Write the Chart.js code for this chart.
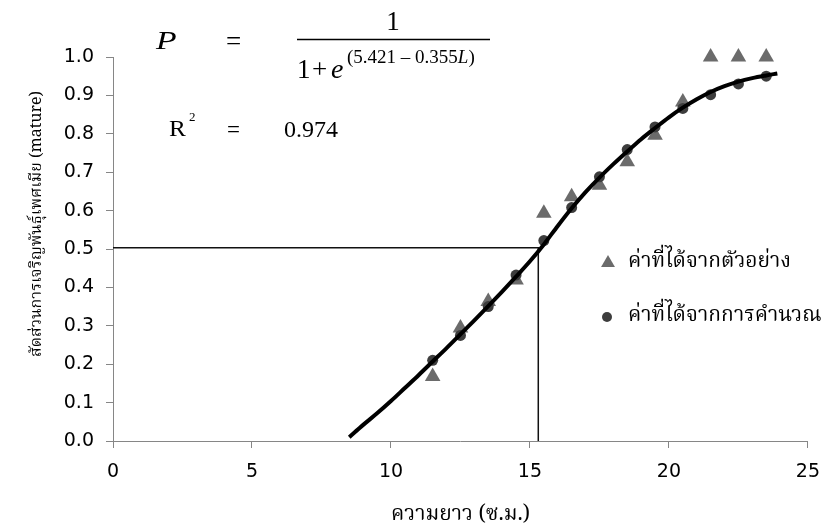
<!DOCTYPE html>
<html>
<head>
<meta charset="utf-8">
<script src="https://cdn.jsdelivr.net/npm/chart.js@4.4.1/dist/chart.umd.min.js"></script>
<style>
  html, body { margin: 0; padding: 0; background: #ffffff; }
  #wrap { width: 833px; height: 530px; }
</style>
</head>
<body>
<div id="wrap"><canvas id="chart" width="833" height="530"></canvas></div>
<script>
// Maturity ogive - observed vs calculated proportion by length
const lengthsCm = [11.5, 12.5, 13.5, 14.5, 15.5, 16.5, 17.5, 18.5, 19.5, 20.5, 21.5, 22.5, 23.5];
const observedP = [0.168, 0.294, 0.363, 0.419, 0.593, 0.636, 0.666, 0.727, 0.796, 0.883, 1.0, 1.0, 1.0];
const calculatedP = [0.21, 0.275, 0.35, 0.432, 0.522, 0.608, 0.688, 0.759, 0.818, 0.866, 0.902, 0.93, 0.95];

// fitted curve
const curveX = [8.5, 9.0, 9.5, 10.0, 10.5, 11.0, 11.5, 12.0, 12.5, 13.0, 13.5, 14.0, 14.5, 15.0, 15.5,
                16.0, 16.5, 17.0, 17.5, 18.0, 18.5, 19.0, 19.5, 20.0, 20.5, 21.0, 21.5, 22.0, 22.5, 23.0, 23.5, 23.9];
const curveY = [0.01, 0.042, 0.072, 0.104, 0.138, 0.172, 0.207, 0.242, 0.278, 0.314, 0.351, 0.389, 0.428, 0.468, 0.512,
                0.56, 0.606, 0.648, 0.686, 0.721, 0.754, 0.786, 0.815, 0.843, 0.868, 0.89, 0.909, 0.924, 0.936, 0.945, 0.952, 0.957];

// L50 guide lines
const l50X = [0, 15.3, 15.3];
const l50Y = [0.503, 0.503, 0];

const xTicks = [0, 5, 10, 15, 20, 25];
const yTicks = [0.0, 0.1, 0.2, 0.3, 0.4, 0.5, 0.6, 0.7, 0.8, 0.9, 1.0];

const seriesNames = ['ค่าที่ได้จากตัวอย่าง', 'ค่าที่ได้จากการคำนวณ'];
const xTitle = 'ความยาว (ซ.ม.)';
const yTitle = 'สัดส่วนการเจริญพันธุ์เพศเมีย (mature)';

const thaiFont = "'Noto Serif Thai', 'Noto Sans Thai', 'Liberation Serif', serif";
const tickFont = "Verdana, 'DejaVu Sans', sans-serif";
const eqFont = "'Liberation Serif', 'Times New Roman', serif";
const axisGray = '#868686';

const toPoints = (xs, ys) => xs.map((x, i) => ({ x: x, y: ys[i] }));

// draws text stretched horizontally (the equation glyphs are wide in the original)
function wideText(ctx, txt, x, y, sx) {
    ctx.save();
    ctx.translate(x, y);
    ctx.scale(sx, 1);
    ctx.fillText(txt, 0, 0);
    ctx.restore();
}

// equation text, y title and legend inside the plot
const overlayPlugin = {
    id: 'overlay',
    afterDraw(chart) {
        const ctx = chart.ctx;
        ctx.save();
        ctx.fillStyle = '#000';
        ctx.textBaseline = 'alphabetic';
        ctx.textAlign = 'left';

        // P = 1 / (1 + e^(5.421 - 0.355L))
        ctx.font = 'italic 25px ' + eqFont;
        wideText(ctx, 'P', 156, 49, 1.35);
        ctx.font = '27px ' + eqFont;
        ctx.fillText('=', 226, 50);
        ctx.textAlign = 'center';
        ctx.fillText('1', 393, 30);
        ctx.textAlign = 'left';
        ctx.strokeStyle = '#000';
        ctx.lineWidth = 1.3;
        ctx.beginPath();
        ctx.moveTo(297, 39.5);
        ctx.lineTo(490, 39.5);
        ctx.stroke();
        ctx.fillText('1', 297, 78);
        ctx.fillText('+', 312, 78);
        ctx.font = 'italic 28px ' + eqFont;
        ctx.fillText('e', 331, 78);
        ctx.font = '19px ' + eqFont;
        ctx.fillText('(5.421 \u2013 0.355', 347, 63);
        let w = ctx.measureText('(5.421 \u2013 0.355').width;
        ctx.font = 'italic 19px ' + eqFont;
        ctx.fillText('L', 347 + w, 63);
        let w2 = ctx.measureText('L').width;
        ctx.font = '19px ' + eqFont;
        ctx.fillText(')', 347 + w + w2, 63);

        // R^2 = 0.974
        ctx.font = '23px ' + eqFont;
        wideText(ctx, 'R', 169, 136, 1.1);
        ctx.fillText('=', 227, 137);
        ctx.font = '24px ' + eqFont;
        ctx.fillText('0.974', 284, 137);
        ctx.font = '13px ' + eqFont;
        ctx.fillText('2', 189, 121);

        // y axis title
        ctx.save();
        ctx.translate(38, 224);
        ctx.rotate(-Math.PI / 2);
        ctx.textAlign = 'center';
        ctx.textBaseline = 'middle';
        ctx.font = '16px ' + thaiFont;
        ctx.fillText(yTitle, 0, 0);
        ctx.restore();

        // legend
        const ds = chart.data.datasets;
        const items = [ds[2], ds[1]];
        const lx = 608;
        const ly = [263, 317];
        items.forEach((d, i) => {
            ctx.fillStyle = d.backgroundColor;
            if (d.pointStyle === 'triangle') {
                const r = 8;
                ctx.beginPath();
                ctx.moveTo(lx, ly[i] - r);
                ctx.lineTo(lx + r * 0.866, ly[i] + r / 2);
                ctx.lineTo(lx - r * 0.866, ly[i] + r / 2);
                ctx.closePath();
                ctx.fill();
            } else {
                ctx.beginPath();
                ctx.arc(lx - 1, ly[i], 5, 0, Math.PI * 2);
                ctx.fill();
            }
            ctx.fillStyle = '#000';
            ctx.font = '21px ' + thaiFont;
            ctx.textAlign = 'left';
            ctx.textBaseline = 'middle';
            ctx.fillText(seriesNames[i], 628, ly[i] + 1);
        });
        ctx.restore();
    }
};

const ctx = document.getElementById('chart').getContext('2d');
new Chart(ctx, {
    type: 'scatter',
    data: {
        datasets: [
            {
                label: 'curve',
                type: 'line',
                data: toPoints(curveX, curveY),
                borderColor: '#000000',
                borderWidth: 4,
                pointRadius: 0,
                fill: false,
                tension: 0.4,
                cubicInterpolationMode: 'monotone',
                clip: false,
                order: 0
            },
            {
                label: seriesNames[1],
                data: toPoints(lengthsCm, calculatedP),
                pointStyle: 'circle',
                pointRadius: 5.5,
                backgroundColor: '#3d3d3d',
                borderColor: '#3d3d3d',
                borderWidth: 0,
                clip: false,
                order: 1
            },
            {
                label: seriesNames[0],
                data: toPoints(lengthsCm, observedP),
                pointStyle: 'triangle',
                pointRadius: 9,
                backgroundColor: '#6b6b6b',
                borderColor: '#6b6b6b',
                borderWidth: 0,
                clip: false,
                order: 2
            },
            {
                label: 'L50',
                type: 'line',
                data: toPoints(l50X, l50Y),
                borderColor: '#111111',
                borderWidth: 1.5,
                pointRadius: 0,
                fill: false,
                tension: 0,
                order: 3
            }
        ]
    },
    options: {
        responsive: false,
        animation: false,
        events: [],
        layout: { padding: { top: 57, right: 18, bottom: 0, left: 0 } },
        plugins: {
            legend: { display: false },
            tooltip: { enabled: false }
        },
        scales: {
            x: {
                type: 'linear',
                min: 0,
                max: 25,
                afterBuildTicks: scale => { scale.ticks = xTicks.map(v => ({ value: v })); },
                afterFit: scale => { scale.height = 89; },
                border: { color: axisGray, width: 1 },
                grid: { drawOnChartArea: false, drawTicks: true, tickLength: 7, color: axisGray },
                ticks: { color: '#000', font: { family: tickFont, size: 19 }, padding: 13, maxRotation: 0 },
                title: {
                    display: true,
                    text: xTitle,
                    color: '#000',
                    font: { family: thaiFont, size: 21 },
                    padding: { top: 0, bottom: 1 }
                }
            },
            y: {
                type: 'linear',
                min: 0,
                max: 1,
                afterBuildTicks: scale => { scale.ticks = yTicks.map(v => ({ value: v })); },
                afterFit: scale => { scale.width = 113; },
                border: { color: axisGray, width: 1 },
                grid: { drawOnChartArea: false, drawTicks: true, tickLength: 7, color: axisGray },
                ticks: {
                    color: '#000',
                    font: { family: tickFont, size: 19 },
                    padding: 12,
                    callback: v => v.toFixed(1)
                },
                title: { display: false }
            }
        }
    },
    plugins: [overlayPlugin]
});
</script>
</body>
</html>
